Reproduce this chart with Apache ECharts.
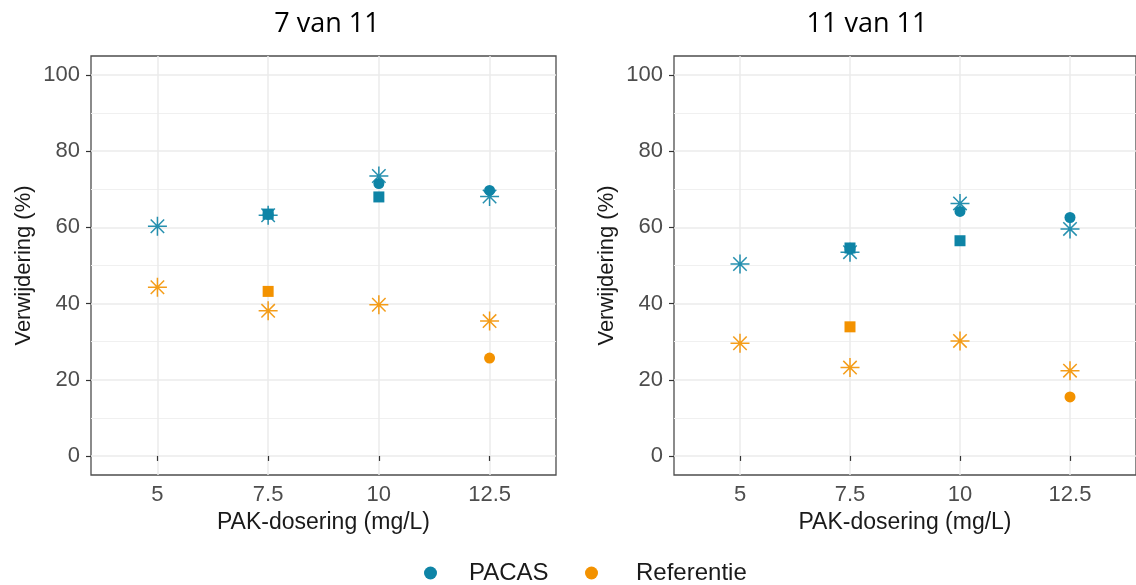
<!DOCTYPE html>
<html>
<head>
<meta charset="utf-8">
<script src="https://cdn.jsdelivr.net/npm/echarts@6/dist/echarts.min.js"></script>
<style>
  html, body { margin: 0; padding: 0; background: #fff; }
  #chart { width: 1136px; height: 585px; }
</style>
</head>
<body>
<div id="chart"></div>
<script>
// PAK dosing levels (x) and their tick labels
const doses = [5, 7.5, 10, 12.5];
const doseLabels = ['5', '7.5', '10', '12.5'];
const yMajorTicks = [0, 20, 40, 60, 80, 100];
const yMinorTicks = [10, 30, 50, 70, 90];
const panelTitles = ['7 van 11', '11 van 11'];
const groupNames = ['PACAS', 'Referentie'];

// Removal (%) per dose, panel "7 van 11"
const pacasStar7   = [60.3, 63.2, 73.5, 68.1];
const pacasSquare7 = [null, 63.5, 68.0, null];
const pacasDot7    = [null, 63.4, 71.5, 69.7];
const refStar7     = [44.3, 38.1, 39.7, 35.4];
const refSquare7   = [null, 43.2, null, null];
const refDot7      = [null, null, null, 25.7];

// Removal (%) per dose, panel "11 van 11"
const pacasStar11   = [50.4, 53.5, 66.3, 59.6];
const pacasSquare11 = [null, 54.6, 56.5, null];
const pacasDot11    = [null, 54.3, 64.2, 62.6];
const refStar11     = [29.6, 23.2, 30.2, 22.4];
const refSquare11   = [null, 33.9, null, null];
const refDot11      = [null, null, null, 15.5];

const COLORS = { PACAS: '#0E84A6', Referentie: '#F39200' };
const ASTERISK = 'path://M10 0L10 20M0 10L20 10M2.93 2.93L17.07 17.07M17.07 2.93L2.93 17.07';
const FONT = 'Liberation Sans';

const panels = [
  { left: 91, titleX: 327, pacas: [pacasDot7, pacasSquare7, pacasStar7], ref: [refDot7, refSquare7, refStar7] },
  { left: 674, titleX: 867, pacas: [pacasDot11, pacasSquare11, pacasStar11], ref: [refDot11, refSquare11, refStar11] }
];

function points(values) {
  const out = [];
  values.forEach((v, k) => { if (v !== null) out.push([doses[k], v]); });
  return out;
}

function markerSeries(name, gi, values, kind) {
  const color = COLORS[name];
  const s = {
    type: 'scatter', name, xAxisIndex: gi, yAxisIndex: 2 * gi + 1,
    data: points(values), silent: true, emphasis: { disabled: true }
  };
  if (kind === 'dot') {
    s.symbol = 'circle'; s.symbolSize = 11; s.itemStyle = { color, opacity: 1 };
    s.z = 4;
  } else if (kind === 'square') {
    s.symbol = 'rect'; s.symbolSize = 11; s.itemStyle = { color, opacity: 1 };
    s.z = 3;
  } else {
    s.symbol = ASTERISK; s.symbolSize = 19;
    s.itemStyle = { color: 'rgba(0,0,0,0)', borderColor: color, borderWidth: 1.5, opacity: 0.9 };
    s.z = 2;
  }
  return s;
}

const grid = [], xAxis = [], yAxis = [], series = [], graphic = [];
const tickStyle = { color: '#333333', width: 1.2 };
const labelStyle = { color: '#4D4D4D', fontSize: 22, fontFamily: FONT };

panels.forEach((p, gi) => {
  grid.push({ left: p.left, top: 56, width: 465, height: 419, show: true,
              borderColor: '#4D4D4D', borderWidth: 1.3, backgroundColor: 'transparent' });
  xAxis.push({
    gridIndex: gi, type: 'value', min: 3.5, max: 14,
    axisLine: { show: false },
    axisTick: { show: true, length: 5, lineStyle: tickStyle, customValues: doses },
    axisLabel: Object.assign({ customValues: doses, margin: 9,
      formatter: v => doseLabels[doses.indexOf(v)] }, labelStyle),
    splitLine: { show: true, lineStyle: { color: '#EBEBEB', width: 1.5 } },
    name: 'PAK-dosering (mg/L)', nameLocation: 'middle', nameGap: 35,
    nameTextStyle: { color: '#1A1A1A', fontSize: 23, fontFamily: FONT }
  });
  // minor horizontal gridlines
  yAxis.push({
    gridIndex: gi, type: 'value', min: -5, max: 105, position: 'left',
    axisLine: { show: false }, axisTick: { show: false, customValues: yMinorTicks },
    axisLabel: { show: false },
    splitLine: { show: true, lineStyle: { color: '#F0F0F0', width: 1 } }
  });
  // major axis with ticks and labels
  yAxis.push({
    gridIndex: gi, type: 'value', min: -5, max: 105, position: 'left',
    axisLine: { show: false },
    axisTick: { show: true, length: 5, lineStyle: tickStyle, customValues: yMajorTicks },
    axisLabel: Object.assign({ customValues: yMajorTicks, margin: 11 }, labelStyle),
    splitLine: { show: true, lineStyle: { color: '#EBEBEB', width: 1.5 } },
    name: 'Verwijdering (%)', nameLocation: 'middle', nameGap: 56, nameRotate: 90,
    nameTextStyle: { color: '#1A1A1A', fontSize: 22, fontFamily: FONT }
  });
  series.push(markerSeries('PACAS', gi, p.pacas[0], 'dot'));
  series.push(markerSeries('Referentie', gi, p.ref[0], 'dot'));
  series.push(markerSeries('PACAS', gi, p.pacas[1], 'square'));
  series.push(markerSeries('Referentie', gi, p.ref[1], 'square'));
  series.push(markerSeries('PACAS', gi, p.pacas[2], 'star'));
  series.push(markerSeries('Referentie', gi, p.ref[2], 'star'));
  graphic.push({
    type: 'text', x: p.titleX, y: 24,
    style: { text: panelTitles[gi], fontSize: 27, fontFamily: 'Open Sans', fill: '#000',
             align: 'center', verticalAlign: 'middle' }
  });
});

const legendFont = { fontSize: 24, color: '#1A1A1A', fontFamily: FONT };
const legend = [
  { data: [{ name: groupNames[0], icon: 'circle' }], left: 419, top: 556, padding: 5,
    itemWidth: 13, itemHeight: 13, selectedMode: false,
    textStyle: Object.assign({ padding: [0, 0, 0, 27] }, legendFont) },
  { data: [{ name: groupNames[1], icon: 'circle' }], left: 580, top: 556, padding: 5,
    itemWidth: 13, itemHeight: 13, selectedMode: false,
    textStyle: Object.assign({ padding: [0, 0, 0, 33] }, legendFont) }
];

const chart = echarts.init(document.getElementById('chart'), null, { renderer: 'canvas' });
chart.setOption({
  animation: false,
  backgroundColor: '#fff',
  grid, xAxis, yAxis, series, legend, graphic
});
</script>
</body>
</html>
